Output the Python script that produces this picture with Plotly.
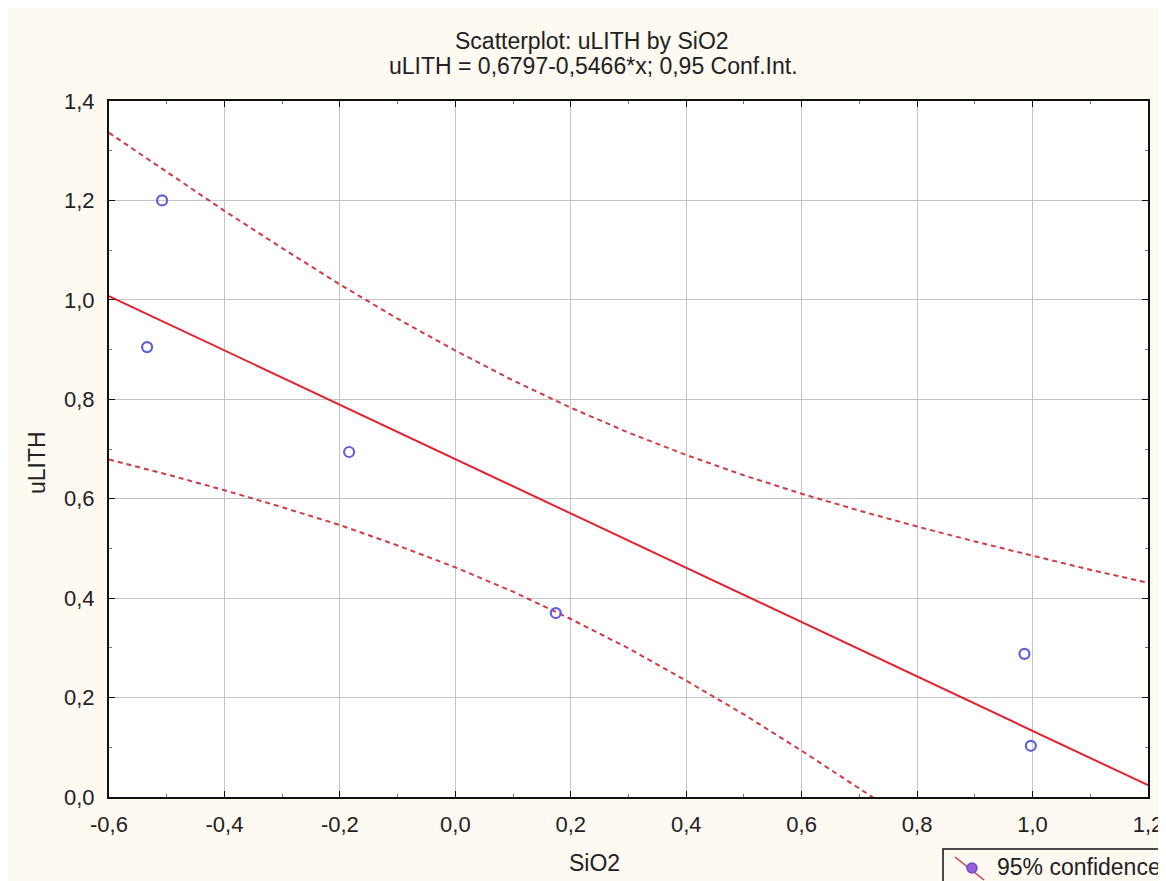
import plotly.graph_objects as go

# ---------------- data ----------------
x_points = [-0.508, -0.534, -0.184, 0.174, 0.986, 0.997]
y_points = [1.200, 0.905, 0.694, 0.370, 0.288, 0.103]

intercept = 0.6797
slope = -0.5466

ci_x = [-0.6, -0.5, -0.4, -0.3, -0.2, -0.1, 0.0, 0.1, 0.2, 0.3,
        0.4, 0.5, 0.6, 0.7, 0.8, 0.9, 1.0, 1.1, 1.2]
ci_upper = [1.336, 1.257, 1.179, 1.104, 1.031, 0.962, 0.898, 0.838, 0.783, 0.733,
            0.688, 0.647, 0.610, 0.576, 0.544, 0.514, 0.485, 0.457, 0.431]
ci_lower = [0.679, 0.649, 0.617, 0.583, 0.547, 0.506, 0.462, 0.413, 0.358, 0.299,
            0.234, 0.166, 0.093, 0.018, -0.059, -0.138, -0.219, -0.301, -0.383]

x_tickvals = [-0.6, -0.4, -0.2, 0.0, 0.2, 0.4, 0.6, 0.8, 1.0, 1.2]
x_ticktext = ["-0,6", "-0,4", "-0,2", "0,0", "0,2", "0,4", "0,6", "0,8", "1,0", "1,2"]
y_tickvals = [0.0, 0.2, 0.4, 0.6, 0.8, 1.0, 1.2, 1.4]
y_ticktext = ["0,0", "0,2", "0,4", "0,6", "0,8", "1,0", "1,2", "1,4"]

title1 = "Scatterplot: uLITH by SiO2"
title2 = "uLITH = 0,6797-0,5466*x; 0,95 Conf.Int."
x_title = "SiO2"
y_title = "uLITH"
legend_text = "95% confidence"

# ---------------- layout geometry (figure pixels) ----------------
W, H = 1166, 881
L, R, T, B = 101, 26, 93, 92
PW = W - L - R
PH = H - T - B


def px(xp):
    return (xp - L) / PW


def py(yp):
    return (H - B - yp) / PH


FONT = "Liberation Sans, Arial, sans-serif"
CREAM = "#FEF9F1"
RED = "#E3232E"
DASHRED = "#D23A46"
BLUE = "#6060DC"

fig = go.Figure()

reg_x = [x_tickvals[0], x_tickvals[-1]]
reg_y = [intercept + slope * v for v in reg_x]

fig.add_trace(go.Scatter(x=ci_x, y=ci_upper, mode="lines",
                         line=dict(color=DASHRED, width=2, dash="5px,4px"),
                         showlegend=False, hoverinfo="skip"))
fig.add_trace(go.Scatter(x=ci_x, y=ci_lower, mode="lines",
                         line=dict(color=DASHRED, width=2, dash="5px,4px"),
                         showlegend=False, hoverinfo="skip"))
fig.add_trace(go.Scatter(x=reg_x, y=reg_y, mode="lines",
                         line=dict(color=RED, width=2),
                         showlegend=False, hoverinfo="skip"))
fig.add_trace(go.Scatter(x=x_points, y=y_points, mode="markers",
                         marker=dict(symbol="circle-open", size=10, color=BLUE,
                                     line=dict(width=2.2, color=BLUE)),
                         showlegend=False))

axis_common = dict(
    showline=True, linecolor="#111", linewidth=2, mirror="ticks",
    ticks="inside", ticklen=6, tickwidth=1, tickcolor="#111",
    showgrid=True, gridcolor="#C4C4C4", gridwidth=1,
    zeroline=False,
    tickfont=dict(family=FONT, size=22, color="#222"),
    tickmode="array",
    minor=dict(ticks="inside", ticklen=3, tickcolor="#777", showgrid=False),
)

fig.update_xaxes(range=[-0.6, 1.2], tickvals=x_tickvals, ticktext=x_ticktext,
                 ticklabelstandoff=7, **axis_common)
fig.update_xaxes(minor=dict(tickmode="linear", tick0=-0.6, dtick=0.1))
fig.update_yaxes(range=[0.0, 1.4], tickvals=y_tickvals, ticktext=y_ticktext,
                 ticklabelstandoff=8, **axis_common)
fig.update_yaxes(minor=dict(tickmode="linear", tick0=0.0, dtick=0.1))

shapes = [
    # legend box
    dict(type="rect", xref="paper", yref="paper",
         x0=px(935), x1=px(W + 40), y0=py(H + 40), y1=py(841),
         fillcolor=CREAM, line=dict(color="#111", width=1.5)),
    # legend symbol line
    dict(type="line", xref="paper", yref="paper",
         x0=px(947), y0=py(849), x1=px(976), y1=py(872),
         line=dict(color=DASHRED, width=1.5)),
    # legend symbol circle
    dict(type="circle", xref="paper", yref="paper",
         x0=px(959), x1=px(969), y0=py(865), y1=py(855),
         fillcolor="#9A5FD8", line=dict(color="#6A4AD0", width=1.5)),
]

annotations = [
    dict(text=title1, x=px(584), y=py(33), xref="paper", yref="paper",
         showarrow=False, xanchor="center", yanchor="middle",
         font=dict(family=FONT, size=23, color="#222")),
    dict(text=title2, x=px(585), y=py(58), xref="paper", yref="paper",
         showarrow=False, xanchor="center", yanchor="middle",
         font=dict(family=FONT, size=23, color="#222")),
    dict(text=x_title, x=px(586), y=py(855), xref="paper", yref="paper",
         showarrow=False, xanchor="center", yanchor="middle",
         font=dict(family=FONT, size=23, color="#222")),
    dict(text=y_title, x=px(29), y=py(455), xref="paper", yref="paper",
         showarrow=False, xanchor="center", yanchor="middle", textangle=-90,
         font=dict(family=FONT, size=23, color="#222")),
    dict(text=legend_text, x=px(987), y=py(859), xref="paper", yref="paper",
         showarrow=False, xanchor="left", yanchor="middle",
         font=dict(family=FONT, size=23, color="#222")),
]

fig.update_layout(
    width=W, height=H, autosize=False,
    margin=dict(l=L, r=R, t=T, b=B, pad=0),
    paper_bgcolor=CREAM, plot_bgcolor="white",
    shapes=shapes, annotations=annotations,
    showlegend=False,
)

fig.write_html("out.html")
